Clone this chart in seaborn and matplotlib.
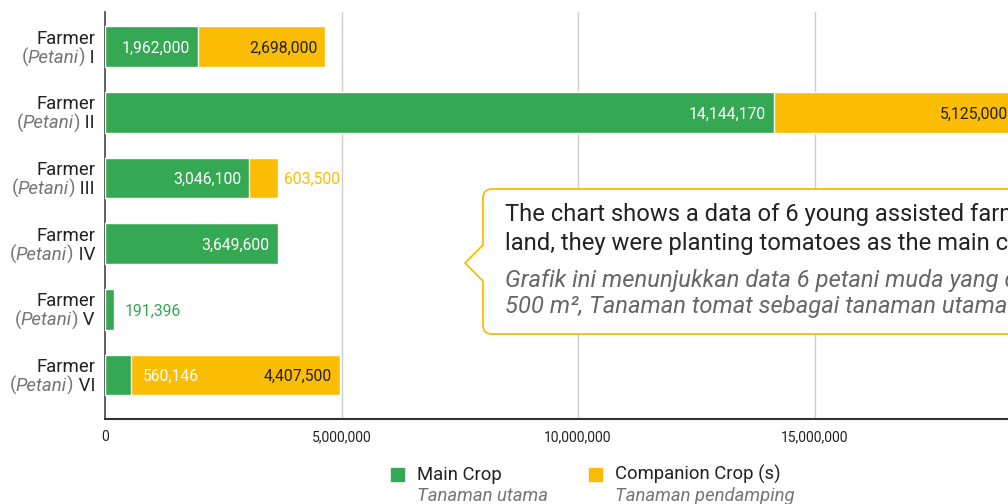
import numpy as np
import matplotlib.pyplot as plt
import matplotlib.patches as mpatches
from matplotlib.path import Path
import seaborn as sns

# data
farmers = ["I", "II", "III", "IV", "V", "VI"]
main_crop = [1962000, 14144170, 3046100, 3649600, 191396, 560146]
companion_crop = [2698000, 5125000, 603500, 0, 0, 4407500]
x_ticks = [0, 5000000, 10000000, 15000000]

GREEN = "#34A853"
YELLOW = "#FBBC04"
DARK = "#222222"
GRAY = "#757575"

W, H = 1008, 504

sns.set_theme(style="white")
plt.rcParams["font.family"] = ["Roboto", "DejaVu Sans"]

fig = plt.figure(figsize=(W / 100, H / 100), dpi=100)
# axes run past the right edge of the image like in the reference
ax = fig.add_axes([105 / W, 1 - 419 / H, 946 / W, 407 / H])

totals = [m + c for m, c in zip(main_crop, companion_crop)]
sns.barplot(x=totals, y=farmers, color=YELLOW, saturation=1, orient="h",
            width=0.62, ax=ax, zorder=3)
sns.barplot(x=main_crop, y=farmers, color=GREEN, saturation=1, orient="h",
            width=0.62, ax=ax, zorder=4)

ax.set_xlim(0, 20000000)
ax.set_ylim(5.67, -0.53)
ax.set_xticks(x_ticks)
ax.set_xticklabels([f"{v:,}" for v in x_ticks], fontsize=10, color=DARK)
ax.tick_params(axis="x", length=0, pad=8)
ax.set_yticks([])
ax.set_xlabel("")
ax.set_ylabel("")
for xv in x_ticks[1:] + [20000000]:
    ax.axvline(xv, color="#cccccc", lw=1, zorder=1)
for s in ["top", "right"]:
    ax.spines[s].set_visible(False)
ax.spines["left"].set_color("#444444")
ax.spines["left"].set_linewidth(1.2)
ax.spines["bottom"].set_color("#333333")
ax.spines["bottom"].set_linewidth(1.5)

# category labels: "Farmer" / "(Petani) I"
LBL = 13.4
for i, num in enumerate(farmers):
    ax.annotate("Farmer", xy=(0, i), xycoords=("axes fraction", "data"),
                xytext=(-10, 3), textcoords="offset pixels", ha="right",
                va="baseline", fontsize=LBL, color=DARK)
    prev = ax.annotate(" " + num, xy=(0, i), xycoords=("axes fraction", "data"),
                       xytext=(-10, -16), textcoords="offset pixels", ha="right",
                       va="baseline", fontsize=LBL, color=DARK)
    for piece, style in [(")", "normal"), ("Petani", "italic"), ("(", "normal")]:
        prev = ax.annotate(piece, xy=(0, i), xycoords=(prev, "data"),
                           xytext=(0, -16), textcoords="offset pixels", ha="right",
                           va="baseline", fontsize=LBL, color=GRAY, style=style)

# value labels
for i in range(len(farmers)):
    m, c = main_crop[i], companion_crop[i]
    if m > 1000000:
        ax.annotate(f"{m:,}", xy=(m, i), xytext=(-8, 0), textcoords="offset pixels",
                    ha="right", va="center_baseline", fontsize=11.3, color="white", zorder=6)
    else:
        col = "white" if c > 0 else GREEN
        ax.annotate(f"{m:,}", xy=(m, i), xytext=(11, 0), textcoords="offset pixels",
                    ha="left", va="center_baseline", fontsize=11.3, color=col, zorder=6)
    if c > 1000000:
        ax.annotate(f"{c:,}", xy=(m + c, i), xytext=(-8, 0), textcoords="offset pixels",
                    ha="right", va="center_baseline", fontsize=11.3, color=DARK, zorder=6)
    elif c > 0:
        ax.annotate(f"{c:,}", xy=(m + c, i), xytext=(6, 0), textcoords="offset pixels",
                    ha="left", va="center_baseline", fontsize=11.3, color=YELLOW, zorder=6)


def px(x, y):
    return (x / W, 1 - y / H)


# callout box with pointer
r = 9
L, T, B, R = 483, 189, 334, 1100
verts = [px(L + r, T), px(R, T), px(R, B), px(L + r, B), px(L, B), px(L, B - r),
         px(L, 281), px(465, 263), px(L, 245), px(L, T + r), px(L, T), px(L + r, T),
         px(L + r, T)]
codes = [Path.MOVETO, Path.LINETO, Path.LINETO, Path.LINETO, Path.CURVE3, Path.CURVE3,
         Path.LINETO, Path.LINETO, Path.LINETO, Path.LINETO, Path.CURVE3, Path.CURVE3,
         Path.CLOSEPOLY]
fig.patches.append(mpatches.PathPatch(Path(verts, codes), facecolor="white",
                                      edgecolor=YELLOW, lw=1.3,
                                      transform=fig.transFigure, zorder=10))

callout_en = ["The chart shows a data of 6 young assisted farmers with",
              "land, they were planting tomatoes as the main crop."]
callout_id = ["Grafik ini menunjukkan data 6 petani muda yang dibina",
              "500 m², Tanaman tomat sebagai tanaman utama dan"]
for line, yb in zip(callout_en, [221, 250]):
    fig.text(505 / W, 1 - yb / H, line, fontsize=17.1, color=DARK, va="baseline",
             zorder=11)
for line, yb in zip(callout_id, [287, 313]):
    fig.text(505 / W, 1 - yb / H, line, fontsize=17.1, color="#666666",
             style="italic", va="baseline", zorder=11)

# legend
legend_items = [("Main Crop", "Tanaman utama", GREEN, 391),
                ("Companion Crop (s)", "Tanaman pendamping", YELLOW, 589)]
for en, loc, col, x0 in legend_items:
    fig.patches.append(mpatches.Rectangle(px(x0, 481), 13 / W, 13 / H, color=col,
                                          transform=fig.transFigure))
    fig.text((x0 + 26) / W, 1 - 480 / H, en, fontsize=13.3, color=DARK, va="baseline")
    fig.text((x0 + 26) / W, 1 - 501 / H, loc, fontsize=13.3, color=GRAY,
             style="italic", va="baseline")

fig.savefig("out.png", dpi=100)
